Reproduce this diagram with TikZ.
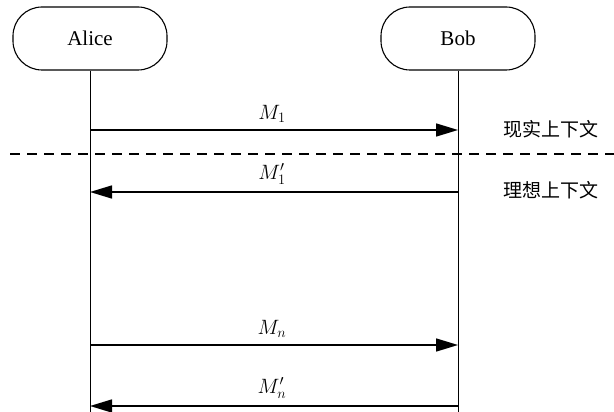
\documentclass[tikz,border=0pt]{standalone}
\usepackage{fontspec}
\setmainfont{Liberation Serif}
\newfontfamily\cjk{Noto Sans CJK SC}
\usetikzlibrary{arrows.meta}
\newcommand{\msgname}[2]{\textit{M}\ensuremath{#2_{\mathrm{#1}}}}
\begin{document}
\begin{tikzpicture}[x=1pt,y=-1pt,
  actor/.style={draw,line width=1.1pt,rounded corners=29pt,minimum width=154pt,minimum height=63pt,inner sep=0pt,font=\fontsize{21}{24}\selectfont},
  life/.style={line width=0.9pt},
  msg/.style={line width=1.6pt,-{Triangle[length=22pt,width=13pt]}},
  mlabel/.style={font=\fontsize{20}{22}\selectfont},
  ctx/.style={font=\cjk\fontsize{19}{21}\selectfont}]
\useasboundingbox (0,0) rectangle (614,412);
\node[actor] (alice) at (90,38.5) {Alice};
\node[actor] (bob) at (458,38.5) {Bob};
\coordinate (aend) at (90,412);
\coordinate (bend) at (458,412);
\draw[life] (alice.south) -- (aend);
\draw[life] (bob.south) -- (bend);
\coordinate (a1) at (90,130); \coordinate (b1) at (458,130);
\coordinate (a2) at (90,192); \coordinate (b2) at (458,192);
\coordinate (a3) at (90,345); \coordinate (b3) at (458,345);
\coordinate (a4) at (90,406); \coordinate (b4) at (458,406);
\draw[msg] (a1) -- (b1);
\draw[msg] (b2) -- (a2);
\draw[msg] (a3) -- (b3);
\draw[msg] (b4) -- (a4);
\node[mlabel] (l1) at (272,114) {$M_1$};
\node[mlabel] (l2) at (272,174) {$M'_1$};
\node[mlabel] (l3) at (272,329) {$M_n$};
\node[mlabel] (l4) at (272,388) {$M'_n$};
\coordinate (d1) at (10,154); \coordinate (d2) at (614,154);
\draw[line width=1.8pt,dash pattern=on 10pt off 7pt] (d1) -- (d2);
\node[ctx] (real) at (551,129) {现实上下文};
\node[ctx] (ideal) at (551,190) {理想上下文};
\end{tikzpicture}
\end{document}
